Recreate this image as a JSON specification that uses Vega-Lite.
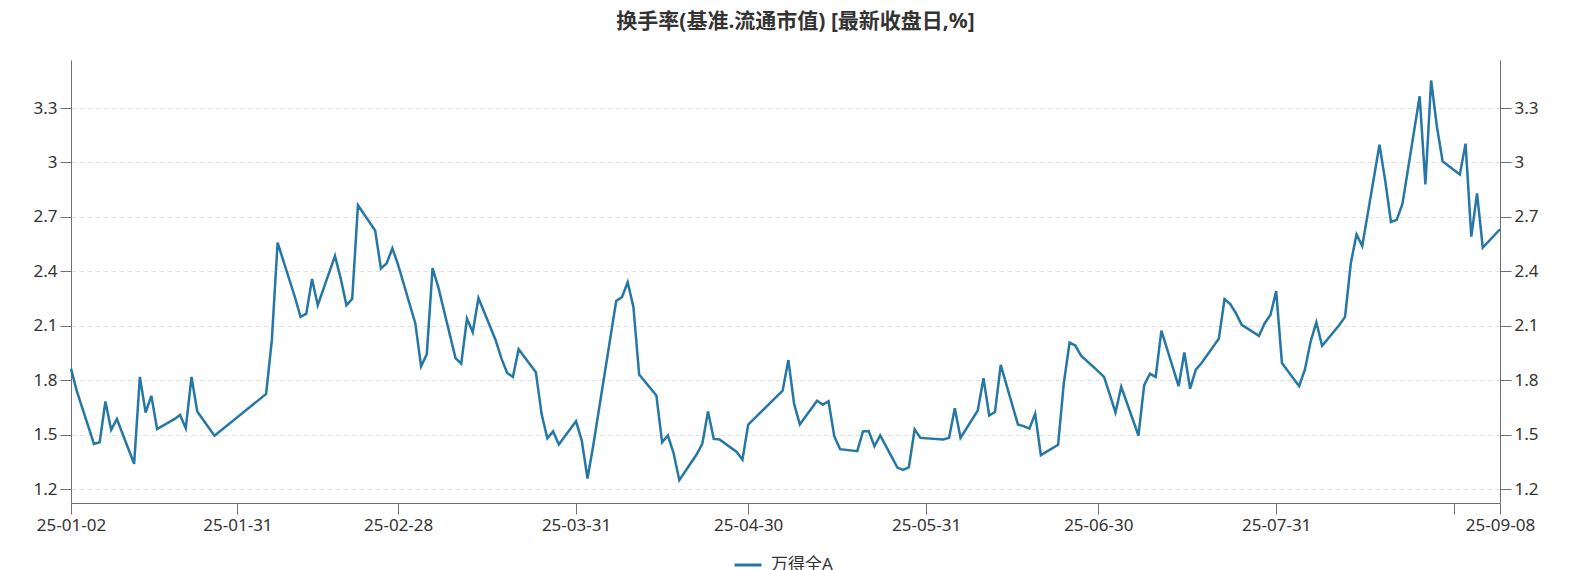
{
  "$schema": "https://vega.github.io/schema/vega-lite/v6.json",
  "width": 1429,
  "height": 443,
  "autosize": {"type": "none"},
  "padding": {"left": 71, "top": 60, "right": 71, "bottom": 67},
  "background": "#ffffff",
  "title": {"text": "换手率(基准.流通市值) [最新收盘日,%]", "fontSize": 21, "fontWeight": "bold", "color": "#333333", "offset": 28, "dx": 10, "anchor": "middle", "font": "Noto Sans, Noto Sans CJK SC, sans-serif"},
  "config": {"view": {"stroke": null}, "font": "Noto Sans, Noto Sans CJK SC, sans-serif"},
  "data": {"values": [
    {"date": "2025-01-02", "value": 1.864, "series": "万得全A"},
    {"date": "2025-01-03", "value": 1.741, "series": "万得全A"},
    {"date": "2025-01-06", "value": 1.449, "series": "万得全A"},
    {"date": "2025-01-07", "value": 1.458, "series": "万得全A"},
    {"date": "2025-01-08", "value": 1.683, "series": "万得全A"},
    {"date": "2025-01-09", "value": 1.526, "series": "万得全A"},
    {"date": "2025-01-10", "value": 1.586, "series": "万得全A"},
    {"date": "2025-01-13", "value": 1.339, "series": "万得全A"},
    {"date": "2025-01-14", "value": 1.818, "series": "万得全A"},
    {"date": "2025-01-15", "value": 1.622, "series": "万得全A"},
    {"date": "2025-01-16", "value": 1.714, "series": "万得全A"},
    {"date": "2025-01-17", "value": 1.531, "series": "万得全A"},
    {"date": "2025-01-20", "value": 1.585, "series": "万得全A"},
    {"date": "2025-01-21", "value": 1.608, "series": "万得全A"},
    {"date": "2025-01-22", "value": 1.535, "series": "万得全A"},
    {"date": "2025-01-23", "value": 1.818, "series": "万得全A"},
    {"date": "2025-01-24", "value": 1.628, "series": "万得全A"},
    {"date": "2025-01-27", "value": 1.494, "series": "万得全A"},
    {"date": "2025-02-05", "value": 1.724, "series": "万得全A"},
    {"date": "2025-02-06", "value": 2.022, "series": "万得全A"},
    {"date": "2025-02-07", "value": 2.558, "series": "万得全A"},
    {"date": "2025-02-10", "value": 2.26, "series": "万得全A"},
    {"date": "2025-02-11", "value": 2.149, "series": "万得全A"},
    {"date": "2025-02-12", "value": 2.167, "series": "万得全A"},
    {"date": "2025-02-13", "value": 2.358, "series": "万得全A"},
    {"date": "2025-02-14", "value": 2.213, "series": "万得全A"},
    {"date": "2025-02-17", "value": 2.485, "series": "万得全A"},
    {"date": "2025-02-18", "value": 2.36, "series": "万得全A"},
    {"date": "2025-02-19", "value": 2.213, "series": "万得全A"},
    {"date": "2025-02-20", "value": 2.249, "series": "万得全A"},
    {"date": "2025-02-21", "value": 2.764, "series": "万得全A"},
    {"date": "2025-02-24", "value": 2.625, "series": "万得全A"},
    {"date": "2025-02-25", "value": 2.416, "series": "万得全A"},
    {"date": "2025-02-26", "value": 2.444, "series": "万得全A"},
    {"date": "2025-02-27", "value": 2.527, "series": "万得全A"},
    {"date": "2025-02-28", "value": 2.436, "series": "万得全A"},
    {"date": "2025-03-03", "value": 2.113, "series": "万得全A"},
    {"date": "2025-03-04", "value": 1.876, "series": "万得全A"},
    {"date": "2025-03-05", "value": 1.944, "series": "万得全A"},
    {"date": "2025-03-06", "value": 2.418, "series": "万得全A"},
    {"date": "2025-03-07", "value": 2.313, "series": "万得全A"},
    {"date": "2025-03-10", "value": 1.922, "series": "万得全A"},
    {"date": "2025-03-11", "value": 1.891, "series": "万得全A"},
    {"date": "2025-03-12", "value": 2.14, "series": "万得全A"},
    {"date": "2025-03-13", "value": 2.064, "series": "万得全A"},
    {"date": "2025-03-14", "value": 2.253, "series": "万得全A"},
    {"date": "2025-03-17", "value": 2.02, "series": "万得全A"},
    {"date": "2025-03-18", "value": 1.92, "series": "万得全A"},
    {"date": "2025-03-19", "value": 1.84, "series": "万得全A"},
    {"date": "2025-03-20", "value": 1.818, "series": "万得全A"},
    {"date": "2025-03-21", "value": 1.971, "series": "万得全A"},
    {"date": "2025-03-24", "value": 1.844, "series": "万得全A"},
    {"date": "2025-03-25", "value": 1.613, "series": "万得全A"},
    {"date": "2025-03-26", "value": 1.48, "series": "万得全A"},
    {"date": "2025-03-27", "value": 1.518, "series": "万得全A"},
    {"date": "2025-03-28", "value": 1.445, "series": "万得全A"},
    {"date": "2025-03-31", "value": 1.573, "series": "万得全A"},
    {"date": "2025-04-01", "value": 1.467, "series": "万得全A"},
    {"date": "2025-04-02", "value": 1.258, "series": "万得全A"},
    {"date": "2025-04-03", "value": 1.44, "series": "万得全A"},
    {"date": "2025-04-07", "value": 2.236, "series": "万得全A"},
    {"date": "2025-04-08", "value": 2.258, "series": "万得全A"},
    {"date": "2025-04-09", "value": 2.34, "series": "万得全A"},
    {"date": "2025-04-10", "value": 2.204, "series": "万得全A"},
    {"date": "2025-04-11", "value": 1.831, "series": "万得全A"},
    {"date": "2025-04-14", "value": 1.716, "series": "万得全A"},
    {"date": "2025-04-15", "value": 1.458, "series": "万得全A"},
    {"date": "2025-04-16", "value": 1.495, "series": "万得全A"},
    {"date": "2025-04-17", "value": 1.398, "series": "万得全A"},
    {"date": "2025-04-18", "value": 1.249, "series": "万得全A"},
    {"date": "2025-04-21", "value": 1.39, "series": "万得全A"},
    {"date": "2025-04-22", "value": 1.449, "series": "万得全A"},
    {"date": "2025-04-23", "value": 1.627, "series": "万得全A"},
    {"date": "2025-04-24", "value": 1.476, "series": "万得全A"},
    {"date": "2025-04-25", "value": 1.473, "series": "万得全A"},
    {"date": "2025-04-28", "value": 1.404, "series": "万得全A"},
    {"date": "2025-04-29", "value": 1.362, "series": "万得全A"},
    {"date": "2025-04-30", "value": 1.555, "series": "万得全A"},
    {"date": "2025-05-06", "value": 1.742, "series": "万得全A"},
    {"date": "2025-05-07", "value": 1.911, "series": "万得全A"},
    {"date": "2025-05-08", "value": 1.669, "series": "万得全A"},
    {"date": "2025-05-09", "value": 1.556, "series": "万得全A"},
    {"date": "2025-05-12", "value": 1.687, "series": "万得全A"},
    {"date": "2025-05-13", "value": 1.665, "series": "万得全A"},
    {"date": "2025-05-14", "value": 1.684, "series": "万得全A"},
    {"date": "2025-05-15", "value": 1.491, "series": "万得全A"},
    {"date": "2025-05-16", "value": 1.42, "series": "万得全A"},
    {"date": "2025-05-19", "value": 1.409, "series": "万得全A"},
    {"date": "2025-05-20", "value": 1.518, "series": "万得全A"},
    {"date": "2025-05-21", "value": 1.52, "series": "万得全A"},
    {"date": "2025-05-22", "value": 1.436, "series": "万得全A"},
    {"date": "2025-05-23", "value": 1.496, "series": "万得全A"},
    {"date": "2025-05-26", "value": 1.318, "series": "万得全A"},
    {"date": "2025-05-27", "value": 1.305, "series": "万得全A"},
    {"date": "2025-05-28", "value": 1.32, "series": "万得全A"},
    {"date": "2025-05-29", "value": 1.529, "series": "万得全A"},
    {"date": "2025-05-30", "value": 1.482, "series": "万得全A"},
    {"date": "2025-06-03", "value": 1.473, "series": "万得全A"},
    {"date": "2025-06-04", "value": 1.482, "series": "万得全A"},
    {"date": "2025-06-05", "value": 1.645, "series": "万得全A"},
    {"date": "2025-06-06", "value": 1.482, "series": "万得全A"},
    {"date": "2025-06-09", "value": 1.633, "series": "万得全A"},
    {"date": "2025-06-10", "value": 1.811, "series": "万得全A"},
    {"date": "2025-06-11", "value": 1.605, "series": "万得全A"},
    {"date": "2025-06-12", "value": 1.624, "series": "万得全A"},
    {"date": "2025-06-13", "value": 1.884, "series": "万得全A"},
    {"date": "2025-06-16", "value": 1.556, "series": "万得全A"},
    {"date": "2025-06-17", "value": 1.547, "series": "万得全A"},
    {"date": "2025-06-18", "value": 1.533, "series": "万得全A"},
    {"date": "2025-06-19", "value": 1.615, "series": "万得全A"},
    {"date": "2025-06-20", "value": 1.387, "series": "万得全A"},
    {"date": "2025-06-23", "value": 1.444, "series": "万得全A"},
    {"date": "2025-06-24", "value": 1.785, "series": "万得全A"},
    {"date": "2025-06-25", "value": 2.007, "series": "万得全A"},
    {"date": "2025-06-26", "value": 1.991, "series": "万得全A"},
    {"date": "2025-06-27", "value": 1.935, "series": "万得全A"},
    {"date": "2025-06-30", "value": 1.849, "series": "万得全A"},
    {"date": "2025-07-01", "value": 1.818, "series": "万得全A"},
    {"date": "2025-07-02", "value": 1.722, "series": "万得全A"},
    {"date": "2025-07-03", "value": 1.622, "series": "万得全A"},
    {"date": "2025-07-04", "value": 1.764, "series": "万得全A"},
    {"date": "2025-07-07", "value": 1.495, "series": "万得全A"},
    {"date": "2025-07-08", "value": 1.773, "series": "万得全A"},
    {"date": "2025-07-09", "value": 1.836, "series": "万得全A"},
    {"date": "2025-07-10", "value": 1.818, "series": "万得全A"},
    {"date": "2025-07-11", "value": 2.073, "series": "万得全A"},
    {"date": "2025-07-14", "value": 1.767, "series": "万得全A"},
    {"date": "2025-07-15", "value": 1.953, "series": "万得全A"},
    {"date": "2025-07-16", "value": 1.753, "series": "万得全A"},
    {"date": "2025-07-17", "value": 1.858, "series": "万得全A"},
    {"date": "2025-07-18", "value": 1.895, "series": "万得全A"},
    {"date": "2025-07-21", "value": 2.028, "series": "万得全A"},
    {"date": "2025-07-22", "value": 2.247, "series": "万得全A"},
    {"date": "2025-07-23", "value": 2.22, "series": "万得全A"},
    {"date": "2025-07-24", "value": 2.168, "series": "万得全A"},
    {"date": "2025-07-25", "value": 2.105, "series": "万得全A"},
    {"date": "2025-07-28", "value": 2.044, "series": "万得全A"},
    {"date": "2025-07-29", "value": 2.114, "series": "万得全A"},
    {"date": "2025-07-30", "value": 2.159, "series": "万得全A"},
    {"date": "2025-07-31", "value": 2.291, "series": "万得全A"},
    {"date": "2025-08-01", "value": 1.895, "series": "万得全A"},
    {"date": "2025-08-04", "value": 1.767, "series": "万得全A"},
    {"date": "2025-08-05", "value": 1.858, "series": "万得全A"},
    {"date": "2025-08-06", "value": 2.013, "series": "万得全A"},
    {"date": "2025-08-07", "value": 2.119, "series": "万得全A"},
    {"date": "2025-08-08", "value": 1.99, "series": "万得全A"},
    {"date": "2025-08-11", "value": 2.104, "series": "万得全A"},
    {"date": "2025-08-12", "value": 2.149, "series": "万得全A"},
    {"date": "2025-08-13", "value": 2.443, "series": "万得全A"},
    {"date": "2025-08-14", "value": 2.604, "series": "万得全A"},
    {"date": "2025-08-15", "value": 2.54, "series": "万得全A"},
    {"date": "2025-08-18", "value": 3.098, "series": "万得全A"},
    {"date": "2025-08-19", "value": 2.9, "series": "万得全A"},
    {"date": "2025-08-20", "value": 2.672, "series": "万得全A"},
    {"date": "2025-08-21", "value": 2.684, "series": "万得全A"},
    {"date": "2025-08-22", "value": 2.772, "series": "万得全A"},
    {"date": "2025-08-25", "value": 3.365, "series": "万得全A"},
    {"date": "2025-08-26", "value": 2.879, "series": "万得全A"},
    {"date": "2025-08-27", "value": 3.452, "series": "万得全A"},
    {"date": "2025-08-28", "value": 3.2, "series": "万得全A"},
    {"date": "2025-08-29", "value": 3.007, "series": "万得全A"},
    {"date": "2025-09-01", "value": 2.934, "series": "万得全A"},
    {"date": "2025-09-02", "value": 3.104, "series": "万得全A"},
    {"date": "2025-09-03", "value": 2.591, "series": "万得全A"},
    {"date": "2025-09-04", "value": 2.83, "series": "万得全A"},
    {"date": "2025-09-05", "value": 2.531, "series": "万得全A"},
    {"date": "2025-09-08", "value": 2.632, "series": "万得全A"}
  ]},
  "encoding": {
    "x": {
      "field": "date", "type": "temporal",
      "scale": {"type": "utc", "nice": false, "domain": [{"year": 2025, "month": 1, "date": 2, "utc": true}, {"year": 2025, "month": 9, "date": 8, "utc": true}]},
      "axis": {
        "title": null, "grid": false,
        "values": [
          {"year": 2025, "month": 1, "date": 2, "utc": true},
          {"year": 2025, "month": 1, "date": 31, "utc": true},
          {"year": 2025, "month": 2, "date": 28, "utc": true},
          {"year": 2025, "month": 3, "date": 31, "utc": true},
          {"year": 2025, "month": 4, "date": 30, "utc": true},
          {"year": 2025, "month": 5, "date": 31, "utc": true},
          {"year": 2025, "month": 6, "date": 30, "utc": true},
          {"year": 2025, "month": 7, "date": 31, "utc": true},
          {"year": 2025, "month": 8, "date": 31, "utc": true},
          {"year": 2025, "month": 9, "date": 8, "utc": true}
        ],
        "labelExpr": "utcmonth(datum.value) == 7 ? '' : utcFormat(datum.value, '%y-%m-%d')",
        "labelFlush": false, "labelOverlap": false, "labelBound": false,
        "labelFontSize": 17, "labelColor": "#333333", "labelPadding": 3,
        "tickSize": 11, "tickColor": "#6e7079", "domainColor": "#6e7079"
      }
    }
  },
  "layer": [
    {
      "mark": {"type": "line", "strokeWidth": 2.5, "interpolate": "linear"},
      "encoding": {
        "y": {
          "field": "value", "type": "quantitative",
          "scale": {"domain": [1.123, 3.565], "nice": false, "zero": false},
          "axis": {
            "orient": "left", "title": null,
            "values": [1.2, 1.5, 1.8, 2.1, 2.4, 2.7, 3.0, 3.3], "format": "~g",
            "grid": true, "gridColor": "#e0e0e0", "gridDash": [5, 3],
            "labelFontSize": 17, "labelColor": "#333333", "labelPadding": 3,
            "tickSize": 11, "tickColor": "#6e7079", "domainColor": "#6e7079"
          }
        },
        "color": {
          "field": "series", "type": "nominal",
          "scale": {"range": ["#2577a6"]},
          "legend": {
            "title": null, "orient": "none", "legendX": 662, "legendY": 490, "padding": 0,
            "symbolType": "stroke", "symbolSize": 729, "symbolStrokeWidth": 3,
            "labelFontSize": 17, "labelColor": "#333333", "labelOffset": 8
          }
        }
      }
    },
    {
      "mark": {"type": "line", "opacity": 0},
      "encoding": {
        "y": {
          "field": "value", "type": "quantitative",
          "scale": {"domain": [1.123, 3.565], "nice": false, "zero": false},
          "axis": {
            "orient": "right", "title": null,
            "values": [1.2, 1.5, 1.8, 2.1, 2.4, 2.7, 3.0, 3.3], "format": "~g",
            "grid": false,
            "labelFontSize": 17, "labelColor": "#333333", "labelPadding": 3,
            "tickSize": 11, "tickColor": "#6e7079", "domainColor": "#6e7079"
          }
        }
      }
    }
  ],
  "resolve": {"axis": {"y": "independent"}}
}
